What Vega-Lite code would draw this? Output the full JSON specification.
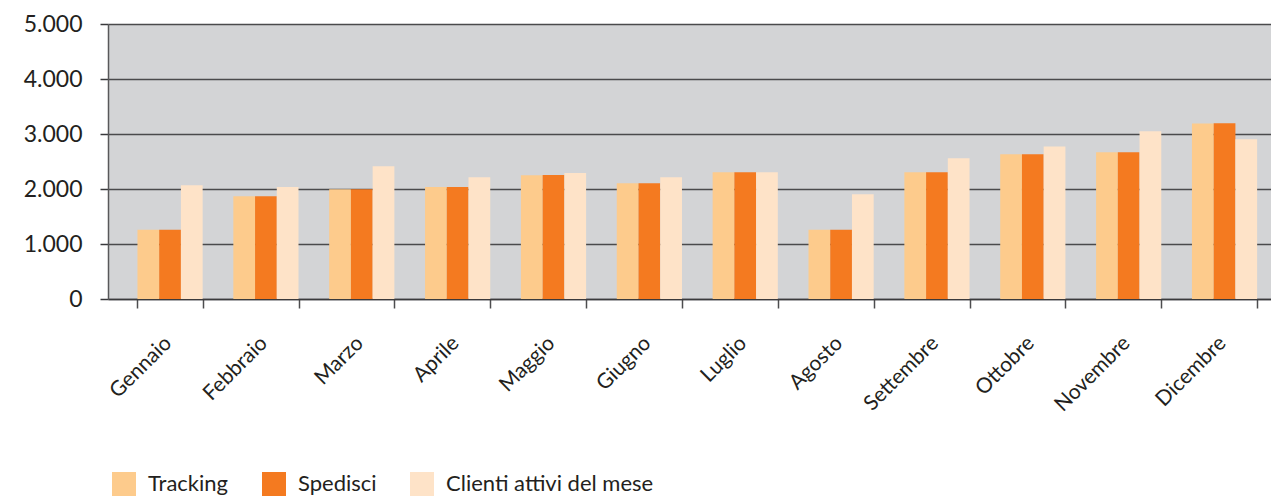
{
  "$schema": "https://vega.github.io/schema/vega-lite/v6.json",
  "autosize": {"type": "none"},
  "width": 1163,
  "height": 275,
  "padding": {"left": 108, "top": 24, "right": 0, "bottom": 200},
  "background": "#ffffff",
  "config": {
    "locale": {"number": {"decimal": ",", "thousands": ".", "grouping": [3], "currency": ["€", ""]}},
    "view": {"fill": "#d3d4d6", "stroke": null},
    "font": "Lato"
  },
  "data": {
    "values": [
      {"mese": "Gennaio", "serie": "Tracking", "valore": 1260},
      {"mese": "Gennaio", "serie": "Spedisci", "valore": 1260},
      {"mese": "Gennaio", "serie": "Clienti attivi del mese", "valore": 2070},
      {"mese": "Febbraio", "serie": "Tracking", "valore": 1870},
      {"mese": "Febbraio", "serie": "Spedisci", "valore": 1870},
      {"mese": "Febbraio", "serie": "Clienti attivi del mese", "valore": 2035},
      {"mese": "Marzo", "serie": "Tracking", "valore": 1995},
      {"mese": "Marzo", "serie": "Spedisci", "valore": 1995},
      {"mese": "Marzo", "serie": "Clienti attivi del mese", "valore": 2415},
      {"mese": "Aprile", "serie": "Tracking", "valore": 2035},
      {"mese": "Aprile", "serie": "Spedisci", "valore": 2035},
      {"mese": "Aprile", "serie": "Clienti attivi del mese", "valore": 2215},
      {"mese": "Maggio", "serie": "Tracking", "valore": 2250},
      {"mese": "Maggio", "serie": "Spedisci", "valore": 2255},
      {"mese": "Maggio", "serie": "Clienti attivi del mese", "valore": 2290},
      {"mese": "Giugno", "serie": "Tracking", "valore": 2105},
      {"mese": "Giugno", "serie": "Spedisci", "valore": 2105},
      {"mese": "Giugno", "serie": "Clienti attivi del mese", "valore": 2215},
      {"mese": "Luglio", "serie": "Tracking", "valore": 2305},
      {"mese": "Luglio", "serie": "Spedisci", "valore": 2305},
      {"mese": "Luglio", "serie": "Clienti attivi del mese", "valore": 2305},
      {"mese": "Agosto", "serie": "Tracking", "valore": 1260},
      {"mese": "Agosto", "serie": "Spedisci", "valore": 1260},
      {"mese": "Agosto", "serie": "Clienti attivi del mese", "valore": 1905},
      {"mese": "Settembre", "serie": "Tracking", "valore": 2305},
      {"mese": "Settembre", "serie": "Spedisci", "valore": 2305},
      {"mese": "Settembre", "serie": "Clienti attivi del mese", "valore": 2560},
      {"mese": "Ottobre", "serie": "Tracking", "valore": 2630},
      {"mese": "Ottobre", "serie": "Spedisci", "valore": 2630},
      {"mese": "Ottobre", "serie": "Clienti attivi del mese", "valore": 2775},
      {"mese": "Novembre", "serie": "Tracking", "valore": 2670},
      {"mese": "Novembre", "serie": "Spedisci", "valore": 2670},
      {"mese": "Novembre", "serie": "Clienti attivi del mese", "valore": 3050},
      {"mese": "Dicembre", "serie": "Tracking", "valore": 3190},
      {"mese": "Dicembre", "serie": "Spedisci", "valore": 3195},
      {"mese": "Dicembre", "serie": "Clienti attivi del mese", "valore": 2905}
    ]
  },
  "mark": {"type": "bar"},
  "encoding": {
    "x": {
      "field": "mese",
      "type": "nominal",
      "sort": ["Gennaio", "Febbraio", "Marzo", "Aprile", "Maggio", "Giugno", "Luglio", "Agosto", "Settembre", "Ottobre", "Novembre", "Dicembre"],
      "scale": {"paddingInner": 0.32, "paddingOuter": 0.226, "align": 0.68},
      "axis": {
        "title": null,
        "labelAngle": -45,
        "labelFont": "Lato",
        "labelFontSize": 21,
        "labelColor": "#231f20",
        "labelPadding": 24,
        "labelOffset": -10,
        "tickBand": "extent",
        "tickSize": 9,
        "tickColor": "#4d4d4f",
        "tickWidth": 1.5,
        "domainColor": "#3a3a3c",
        "domainWidth": 1.5,
        "grid": false
      }
    },
    "xOffset": {
      "field": "serie",
      "type": "nominal",
      "sort": ["Tracking", "Spedisci", "Clienti attivi del mese"],
      "scale": {"paddingInner": 0, "paddingOuter": 0}
    },
    "y": {
      "field": "valore",
      "type": "quantitative",
      "scale": {"domain": [0, 5000]},
      "axis": {
        "title": null,
        "values": [0, 1000, 2000, 3000, 4000, 5000],
        "format": ",d",
        "labelFont": "Lato",
        "labelFontSize": 23,
        "labelColor": "#231f20",
        "labelPadding": 18,
        "tickSize": 8,
        "tickColor": "#3a3a3c",
        "tickWidth": 1.5,
        "domainColor": "#58585a",
        "domainWidth": 1.5,
        "grid": true,
        "gridColor": "#4a4a4c",
        "gridWidth": 1.6
      }
    },
    "color": {
      "field": "serie",
      "type": "nominal",
      "scale": {
        "domain": ["Tracking", "Spedisci", "Clienti attivi del mese"],
        "range": ["#fdcb8c", "#f47a20", "#fee3c8"]
      },
      "legend": {
        "title": null,
        "orient": "none",
        "direction": "horizontal",
        "legendX": 4,
        "legendY": 448,
        "symbolType": "square",
        "symbolSize": 576,
        "symbolStrokeWidth": 0,
        "symbolOpacity": 1,
        "labelFont": "Lato",
        "labelFontSize": 22,
        "labelColor": "#231f20",
        "labelOffset": 12,
        "labelLimit": 0,
        "columnPadding": 33,
        "padding": 0
      }
    }
  }
}
